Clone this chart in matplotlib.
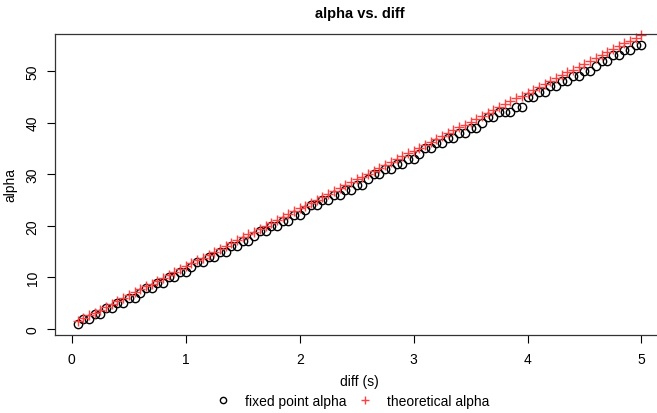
import numpy as np
import matplotlib.pyplot as plt
from matplotlib.lines import Line2D

plt.rcParams['font.family'] = ['Liberation Sans', 'DejaVu Sans']

# diff values 0.05 .. 5.00
diff = [round(0.05 * k, 2) for k in range(1, 101)]

fixed_alpha = [
    1, 2, 2, 3, 3, 4, 4, 5, 5, 6,
    6, 7, 8, 8, 9, 9, 10, 10, 11, 11,
    12, 13, 13, 14, 14, 15, 15, 16, 16, 17,
    17, 18, 19, 19, 20, 20, 21, 21, 22, 22,
    23, 24, 24, 25, 25, 26, 26, 27, 27, 28,
    28, 29, 30, 30, 31, 31, 32, 32, 33, 33,
    34, 35, 35, 36, 36, 37, 37, 38, 38, 39,
    39, 40, 41, 41, 42, 42, 42, 43, 43, 45,
    45, 46, 46, 47, 47, 48, 48, 49, 49, 50,
    50, 51, 52, 52, 53, 53, 54, 54, 55, 55,
]

theoretical_alpha = [
    1.51, 2.07, 2.63, 3.19, 3.75, 4.31, 4.87, 5.43, 5.99, 6.56,
    7.12, 7.68, 8.24, 8.80, 9.36, 9.92, 10.48, 11.04, 11.60, 12.16,
    12.72, 13.28, 13.84, 14.40, 14.96, 15.52, 16.08, 16.64, 17.20, 17.77,
    18.33, 18.89, 19.45, 20.01, 20.57, 21.13, 21.69, 22.25, 22.81, 23.37,
    23.93, 24.49, 25.05, 25.61, 26.17, 26.73, 27.29, 27.85, 28.41, 28.98,
    29.54, 30.10, 30.66, 31.22, 31.78, 32.34, 32.90, 33.46, 34.02, 34.58,
    35.14, 35.70, 36.26, 36.82, 37.38, 37.94, 38.50, 39.06, 39.62, 40.19,
    40.75, 41.31, 41.87, 42.43, 42.99, 43.55, 44.11, 44.67, 45.23, 45.79,
    46.35, 46.91, 47.47, 48.03, 48.59, 49.15, 49.71, 50.27, 50.83, 51.40,
    51.96, 52.52, 53.08, 53.64, 54.20, 54.76, 55.32, 55.88, 56.44, 57.00,
]

W, H = 657, 414
fig = plt.figure(figsize=(W / 100, H / 100), dpi=100)
# axes box in pixels (right side runs past the image edge, like the original)
left, right, top, bottom = 55, 664, 35, 336
ax = fig.add_axes([left / W, 1 - bottom / H, (right - left) / W, (bottom - top) / H])

ax.plot(diff, fixed_alpha, linestyle="none", marker="o", markersize=6,
        markerfacecolor="none", markeredgecolor="black", markeredgewidth=1.0,
        clip_on=False)
ax.plot(diff, theoretical_alpha, linestyle="none", marker="+", markersize=7,
        color="#ff4040", markeredgewidth=1.0, clip_on=False)

xr = max(diff) - min(diff)
ax.set_xlim(min(diff) - 0.04 * xr, max(diff) + 0.04 * xr)
yr = max(fixed_alpha) - min(fixed_alpha)
ax.set_ylim(min(fixed_alpha) - 0.04 * yr, max(fixed_alpha) + 0.04 * yr)

ax.set_xticks(range(0, 6))
ax.set_yticks(range(0, 60, 10))
ax.tick_params(direction="out", length=6, width=0.8, labelsize=10, colors="black")
ax.tick_params(axis="x", pad=6)
ax.tick_params(axis="y", pad=5)
for lab in ax.get_yticklabels():
    lab.set_rotation(90)
    lab.set_va("center")
for s in ax.spines.values():
    s.set_linewidth(0.9)
    s.set_color("#333333")

ax.set_title("alpha vs. diff", fontsize=10.5, fontweight="bold", pad=12)
ax.set_xlabel("diff (s)", fontsize=10, labelpad=6)
ax.set_ylabel("alpha", fontsize=10, labelpad=6)

handles = [
    Line2D([], [], linestyle="none", marker="o", markersize=4.5,
           markerfacecolor="none", markeredgecolor="black"),
    Line2D([], [], linestyle="none", marker="+", markersize=6, color="#ff4040"),
]
fig.legend(handles, ["fixed point alpha", "theoretical alpha"], loc="lower center",
           bbox_to_anchor=(352 / W, -0.018), ncol=2, frameon=False, fontsize=10,
           handlelength=1.2, handletextpad=1.0, columnspacing=0.7)

fig.savefig("out.png", dpi=100)
